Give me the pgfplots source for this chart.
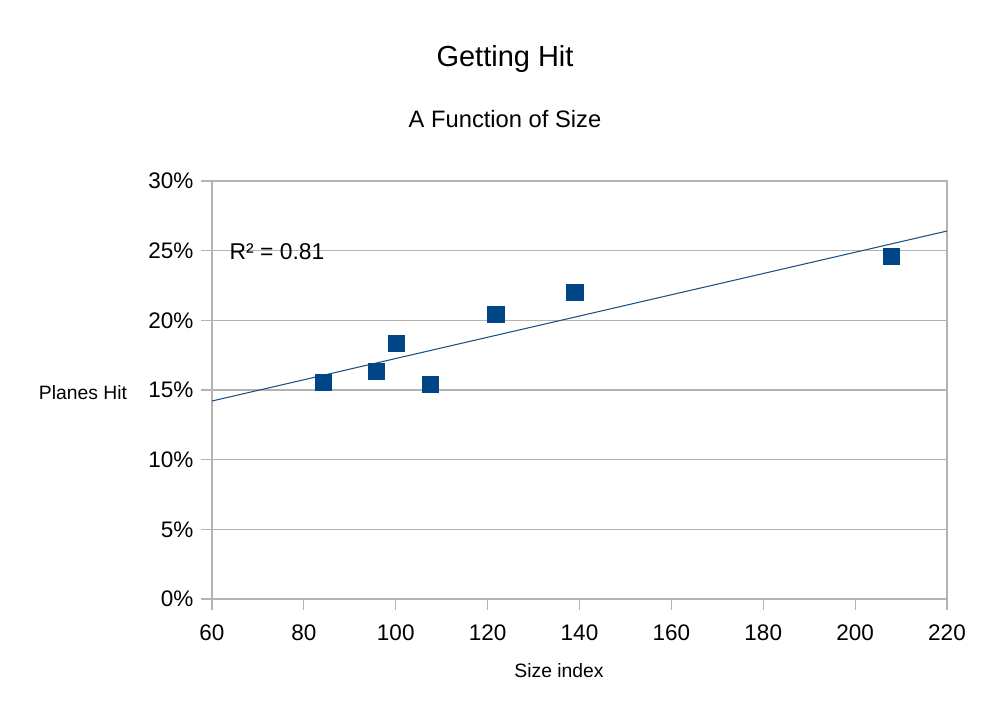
\documentclass[border=0pt]{standalone}
\usepackage{fontspec}
\setmainfont{Liberation Sans}
\usepackage{pgfplots}
\pgfplotsset{compat=1.18}
\definecolor{lodblue}{HTML}{004586}
\definecolor{gridgray}{HTML}{B3B3B3}
\begin{document}
\begin{tikzpicture}
  % canvas: 1000 x 721 px at 0.02 cm per px
  \path[use as bounding box] (0,0) rectangle (20cm,14.42cm);
  \begin{axis}[
    at={(4.24cm,2.44cm)}, anchor=south west,
    scale only axis,
    width=14.7cm, height=8.36cm,
    xmin=60, xmax=220, ymin=0, ymax=30,
    xtick={60,80,...,220}, ytick={0,5,...,30},
    yticklabel={\pgfmathprintnumber{\tick}\%},
    /pgf/number format/assume math mode=true,
    tick label style={font=\fontsize{12.8}{14}\selectfont},
    ymajorgrids, grid style={gridgray, line width=0.6pt},
    axis line style={gridgray, line width=0.6pt},
    tick style={gridgray, line width=0.6pt},
    tick align=outside, major tick length=6pt,
    xtick pos=bottom, ytick pos=left,
    xticklabel style={yshift=-5pt},
    yticklabel style={xshift=-1pt},
    clip=false,
  ]
    % linear trend line
    \addplot[lodblue!80!gray, line width=0.6pt] coordinates {(60,14.21) (220,26.41)};
    \addplot[only marks, mark=square*, mark size=4.6pt, lodblue,
             mark options={fill=lodblue, draw=lodblue}] coordinates {
      (84.2,15.57) (95.7,16.36) (100.05,18.37) (107.5,15.43)
      (121.8,20.45) (139.0,22.03) (207.8,24.62)
    };
    \node[anchor=west, font=\fontsize{13}{15}\selectfont] at (axis cs:62.5,24.9) {R² = 0.81};
  \end{axis}
  \node[font=\fontsize{16.5}{19}\selectfont] at (10.1cm,13.24cm) {Getting Hit};
  \node[font=\fontsize{13.5}{16}\selectfont] at (10.1cm,12.04cm) {A Function of Size};
  \node[font=\fontsize{11}{13}\selectfont] at (11.18cm,1.0cm) {Size index};
  \node[font=\fontsize{11}{13}\selectfont] at (1.66cm,6.56cm) {Planes Hit};
\end{tikzpicture}
\end{document}
